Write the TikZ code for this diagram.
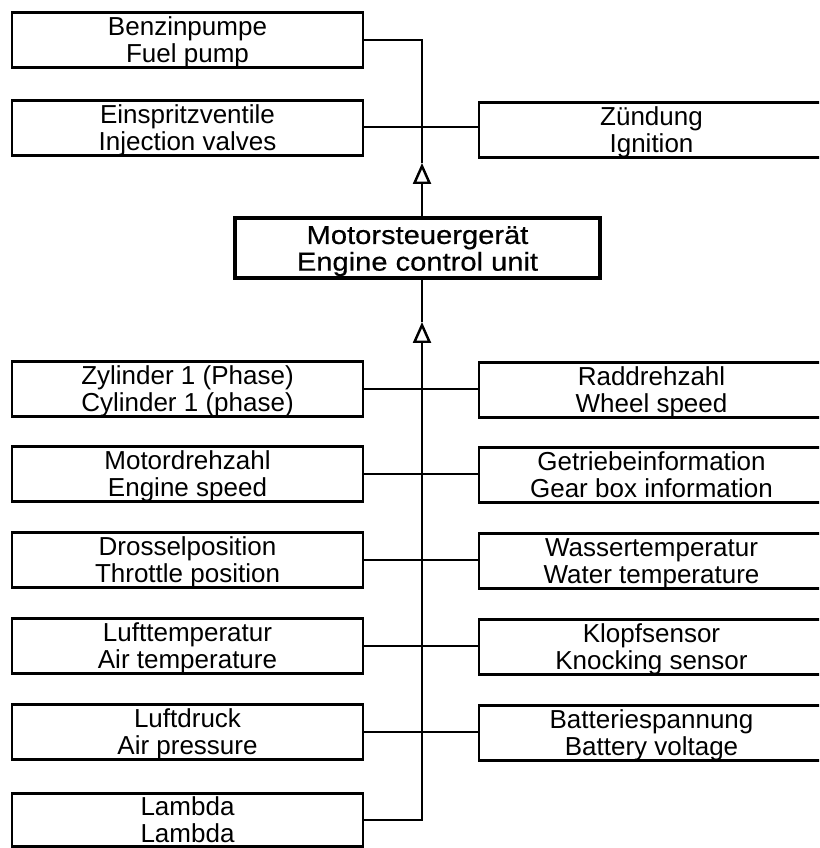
\documentclass[tikz,border=0pt]{standalone}
\usepackage{fontspec}
\setmainfont{Liberation Sans}
\newfontfamily\ecufont{Liberation Sans}[FakeStretch=1.12,FakeBold=0.5]
\usetikzlibrary{arrows.meta}

\begin{document}
\begin{tikzpicture}[x=0.02cm,y=-0.02cm,
    box/.style={draw,line width=1.4pt,minimum width=7.02cm,minimum height=1.1cm,
      inner sep=0pt,align=center,font=\boxfontsize,text height=25.8pt,text depth=0pt},
    rbox/.style={box,minimum width=6.9cm},
    ecubox/.style={box,line width=2pt,minimum width=7.3cm,minimum height=1.2cm,
      font=\ecufont\boxfontsize},
    wire/.style={line width=1.4pt},
    flow/.style={wire,-{Triangle[open,length=0.42cm,width=0.36cm,line width=1.4pt]}}]
    \providecommand{\boxfontsize}{\fontsize{14.8}{15.2}\selectfont}
    \pgfmathsetmacro{\leftx}{187.5}
    \pgfmathsetmacro{\rightx}{479+345/2}
    \pgfmathsetmacro{\spinex}{422}
    \useasboundingbox (0,0) rectangle (819,848);
    \clip (0,0) rectangle (819,848);
    % actuators
    \node[box] (fuel) at (\leftx,40) {Benzinpumpe\\Fuel pump};
    \node[box] (inj) at (\leftx,128) {Einspritzventile\\Injection valves};
    \node[rbox] (ign) at (\rightx,130) {Zündung\\Ignition};
    % control unit
    \node[ecubox] (ecu) at (417.5,248) {Motorsteuergerät\\Engine control unit};
    % sensors
    \node[box] (cyl) at (\leftx,389) {Zylinder 1 (Phase)\\Cylinder 1 (phase)};
    \node[box] (rpm) at (\leftx,474) {Motordrehzahl\\Engine speed};
    \node[box] (thr) at (\leftx,560) {Drosselposition\\Throttle position};
    \node[box] (air) at (\leftx,646) {Lufttemperatur\\Air temperature};
    \node[box] (press) at (\leftx,732) {Luftdruck\\Air pressure};
    \node[box,minimum height=1.06cm] (lam) at (\leftx,820) {Lambda\\Lambda};
    \node[rbox] (whl) at (\rightx,390) {Raddrehzahl\\Wheel speed};
    \node[rbox] (gear) at (\rightx,475) {Getriebeinformation\\Gear box information};
    \node[rbox] (wat) at (\rightx,561) {Wassertemperatur\\Water temperature};
    \node[rbox] (knock) at (\rightx,647) {Klopfsensor\\Knocking sensor};
    \node[rbox] (batt) at (\rightx,733) {Batteriespannung\\Battery voltage};
    % bus lines
    \coordinate (join) at (\spinex,127);
    \coordinate (uptip) at (\spinex,163);
    \coordinate (intip) at (\spinex,322);
    \draw[wire] (fuel.east) -| (join);
    \draw[wire] (inj.east |- join) -- (ign.west |- join);
    \draw[flow] (ecu.north -| uptip) -- (uptip);
    \draw[wire] (uptip) -- (join);
    \draw[wire] (intip) -- (ecu.south -| intip);
    \draw[flow] (lam.east) -| (intip);
    \draw[wire] (cyl.east) -- (whl.west |- cyl.east);
    \draw[wire] (rpm.east) -- (gear.west |- rpm.east);
    \draw[wire] (thr.east) -- (wat.west |- thr.east);
    \draw[wire] (air.east) -- (knock.west |- air.east);
    \draw[wire] (press.east) -- (batt.west |- press.east);
\end{tikzpicture}
\end{document}
